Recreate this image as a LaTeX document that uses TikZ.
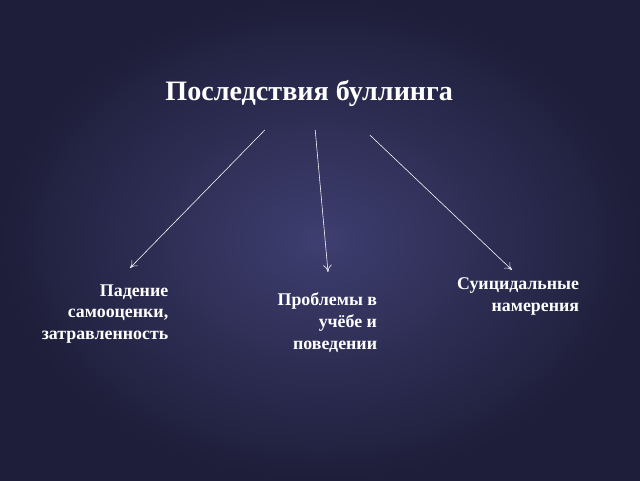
\documentclass[tikz,border=0pt]{standalone}
\usepackage{fontspec}
\setmainfont{Liberation Serif}
\usetikzlibrary{positioning,arrows.meta}
\definecolor{bgouter}{HTML}{1E1E3A}
\definecolor{bginner}{HTML}{3E3E70}
\tikzset{
  lbl/.style={text=white, font=\bfseries\fontsize{12.7}{15.5}\selectfont, align=right, anchor=east},
  arr/.style={white, -{To[length=5pt,width=6pt]}, thin}
}
\begin{document}
\begin{tikzpicture}
  \shade[inner color=bginner, outer color=bgouter] (0,0) rectangle (16,12);
  \useasboundingbox (0,0) rectangle (16,12);
  \node[text=white, font=\bfseries\fontsize{20}{24}\selectfont] (title) at (7.73,9.67) {Последствия буллинга};
  % end points of the arrows
  \coordinate (s1) at (6.62,8.75);
  \coordinate (s2) at (7.88,8.75);
  \coordinate (s3) at (9.25,8.62);
  \coordinate (e1) at (3.25,5.3);
  \coordinate (e2) at (8.2,5.2);
  \coordinate (e3) at (12.8,5.25);
  \draw[arr] (s1) -- (e1);
  \draw[arr] (s2) -- (e2);
  \draw[arr] (s3) -- (e3);
  \node[lbl] (fall) at (4.33,4.15) {Падение\\самооценки,\\затравленность};
  \node[lbl] (study) at (9.55,3.93) {Проблемы в\\учёбе и\\поведении};
  \node[lbl] (suicide) at (14.6,4.58) {Суицидальные\\намерения};
\end{tikzpicture}
\end{document}
